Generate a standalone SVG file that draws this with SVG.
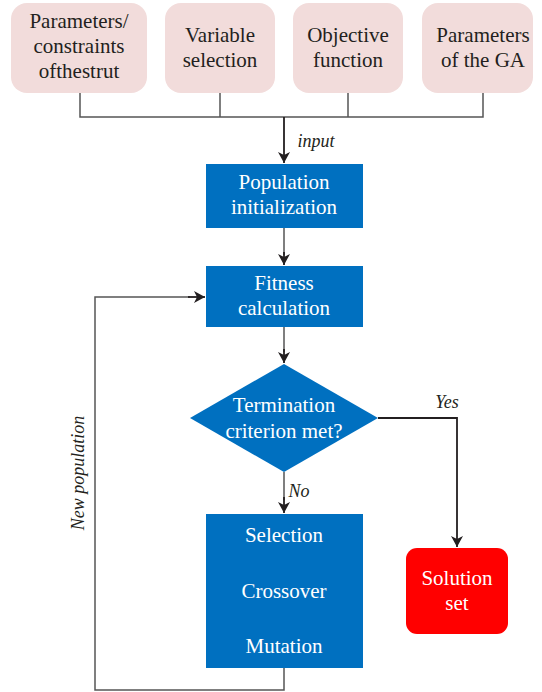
<svg xmlns="http://www.w3.org/2000/svg" width="542" height="692" viewBox="0 0 542 692">
<style>
text{font-family:"Liberation Serif","Times New Roman",Tinos,"Noto Serif","DejaVu Serif",serif}
.t{font-size:21px;text-anchor:middle}
.dk{fill:#231f20}
.wh{fill:#ffffff}
.it{font-style:italic;font-size:18px;fill:#231f20}
.in{fill:#f2dcdb}
.bl{fill:#0070c0}
.ln{fill:none;stroke:#555555;stroke-width:1.5}
.ar{fill:none;stroke:#231f20;stroke-width:1.8}
</style>
<defs>
<marker id="ah" markerWidth="12" markerHeight="12" refX="11" refY="6" orient="auto" markerUnits="userSpaceOnUse">
<path d="M0,0 L11,6 L0,12 L3,6 Z" fill="#231f20"/>
</marker>
</defs>
<rect width="542" height="692" fill="#ffffff"/>
<g id="connectors">
<path class="ln" d="M80,92 V117 H483 V92 M220,92 V117 M348,92 V117"/>
<path class="ar" d="M284,117 V163" marker-end="url(#ah)"/>
<path class="ln" d="M284,228 V255"/>
<path class="ar" d="M284,252 V265" marker-end="url(#ah)"/>
<path class="ln" d="M284,327 V352"/>
<path class="ar" d="M284,349 V363" marker-end="url(#ah)"/>
<path class="ln" d="M284,472 V500"/>
<path class="ar" d="M284,497 V513" marker-end="url(#ah)"/>
<path class="ar" d="M378,418 H457 V547" marker-end="url(#ah)"/>
<path class="ln" d="M284,668 V690 H95 V297 H190"/>
<path class="ar" d="M188,297 H205" marker-end="url(#ah)"/>
<text class="t it" x="316" y="147">input</text>
<text class="t it" x="447" y="408">Yes</text>
<text class="t it" x="299" y="497">No</text>
<text class="t it" transform="translate(84,473) rotate(-90)">New population</text>
</g>
<g id="n1"><rect class="in" x="11" y="3" width="136" height="90" rx="16"/>
<text class="t dk" x="79" y="28">Parameters/</text><text class="t dk" x="79" y="53">constraints</text><text class="t dk" x="79" y="78">ofthestrut</text></g>
<g id="n2"><rect class="in" x="165" y="3" width="110" height="90" rx="16"/>
<text class="t dk" x="220" y="42">Variable</text><text class="t dk" x="220" y="67">selection</text></g>
<g id="n3"><rect class="in" x="293" y="3" width="110" height="90" rx="16"/>
<text class="t dk" x="348" y="42">Objective</text><text class="t dk" x="348" y="67">function</text></g>
<g id="n4"><rect class="in" x="422" y="3" width="111" height="90" rx="16"/>
<text class="t dk" x="483" y="42">Parameters</text><text class="t dk" x="483" y="67">of the GA</text></g>
<g id="init"><rect class="bl" x="206" y="164" width="157" height="64"/>
<text class="t wh" x="284" y="189">Population</text><text class="t wh" x="284" y="214">initialization</text></g>
<g id="fit"><rect class="bl" x="206" y="266" width="157" height="61"/>
<text class="t wh" x="284" y="290">Fitness</text><text class="t wh" x="284" y="315">calculation</text></g>
<g id="term"><polygon class="bl" points="284,364 378,418 284,472 190,418"/>
<text class="t wh" x="284" y="412">Termination</text><text class="t wh" x="284" y="438">criterion met?</text></g>
<g id="ops"><rect class="bl" x="206" y="514" width="157" height="154"/>
<text class="t wh" x="284" y="542">Selection</text><text class="t wh" x="284" y="598">Crossover</text><text class="t wh" x="284" y="653">Mutation</text></g>
<g id="sol"><rect x="406" y="548" width="102" height="86" rx="11" fill="#ff0000"/>
<text class="t wh" x="457" y="585">Solution</text><text class="t wh" x="457" y="610">set</text></g>
</svg>
